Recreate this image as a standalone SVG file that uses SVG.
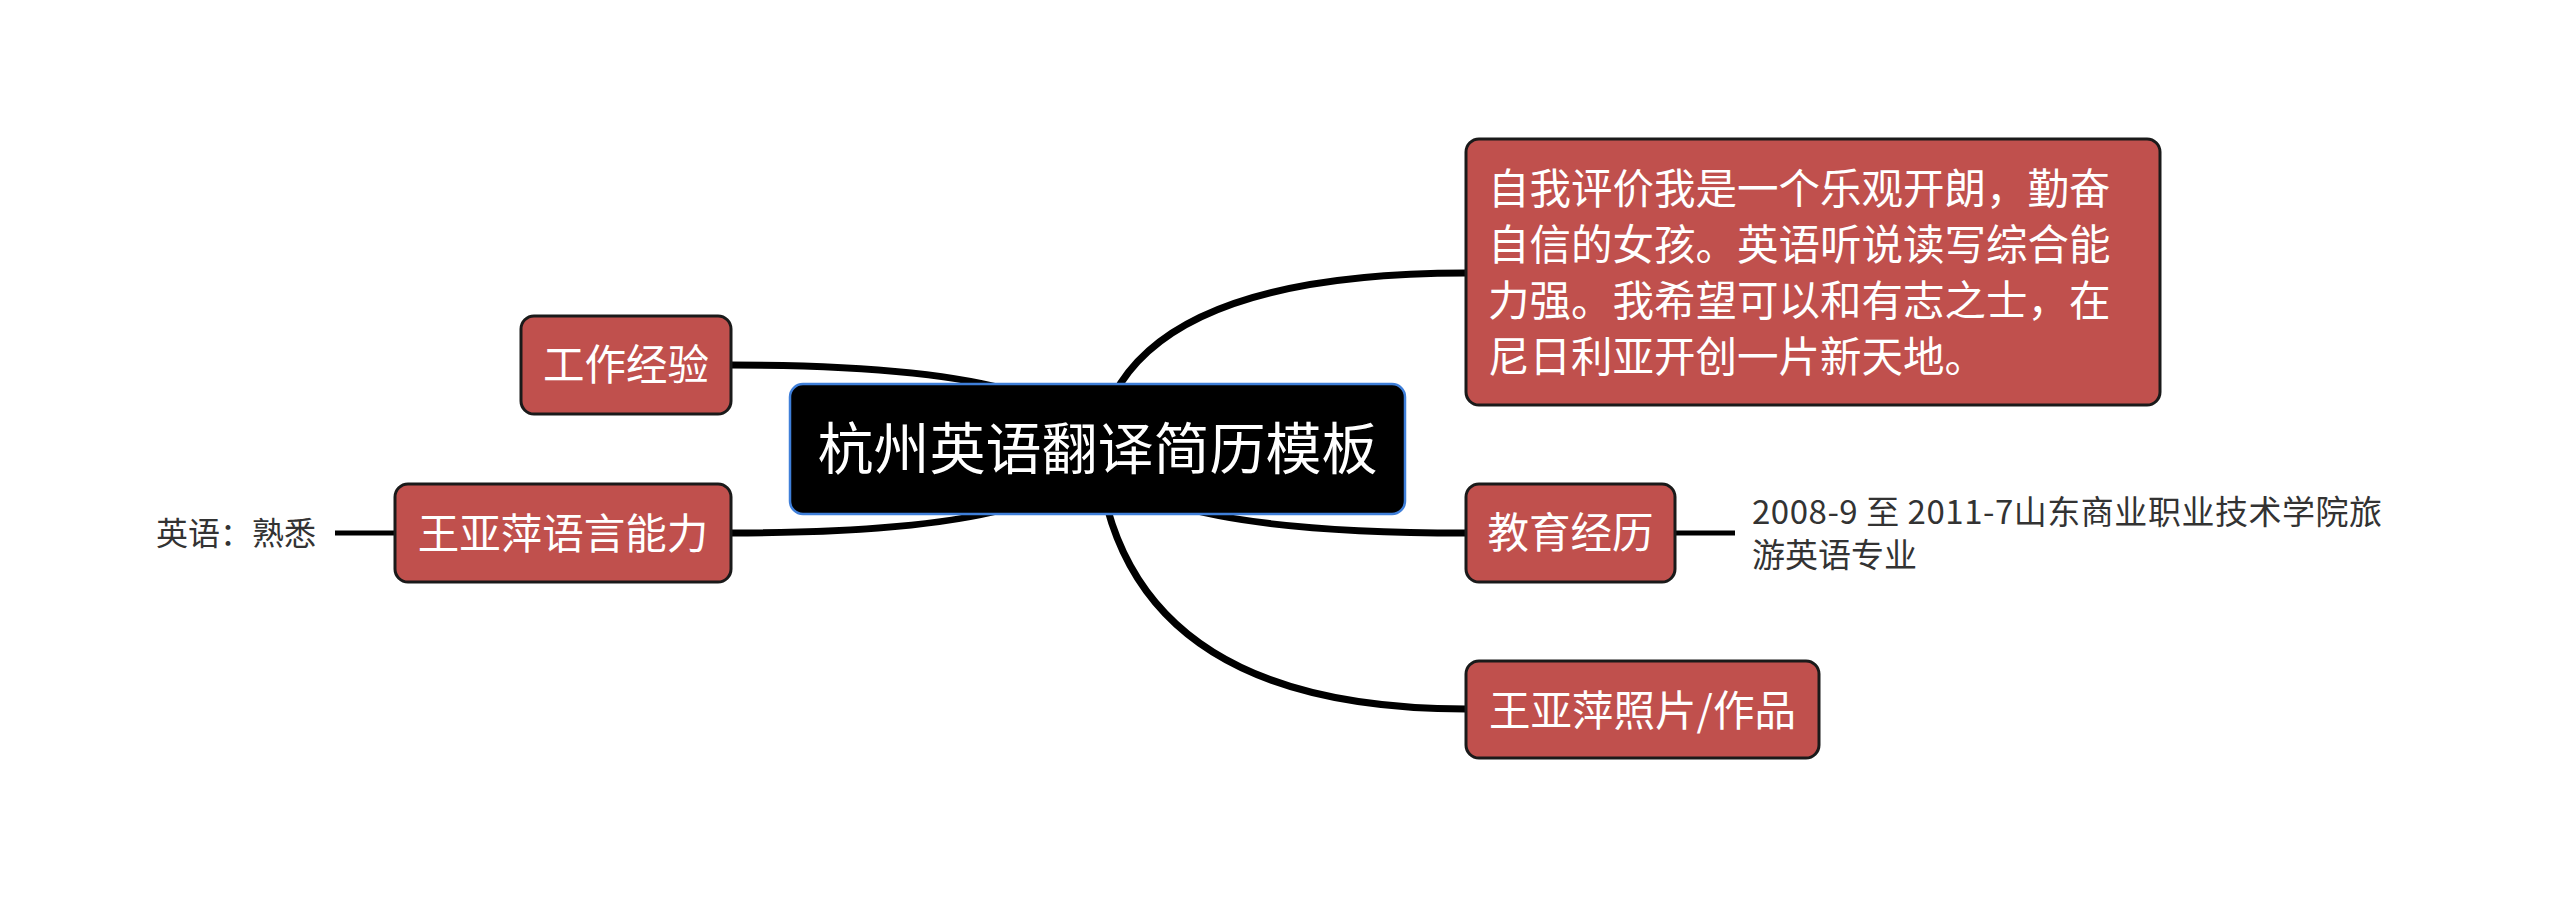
<svg xmlns="http://www.w3.org/2000/svg" width="2560" height="898" viewBox="0 0 2560 898">
  <style>
    .branch { fill: #C0504D; stroke: #1a1a1a; stroke-width: 3; }
    .central { fill: #000000; stroke: #3F7FD9; stroke-width: 2.5; }
    .conn { fill: none; stroke: #000000; stroke-width: 7; stroke-linecap: round; }
    .sub { fill: none; stroke: #000000; stroke-width: 5; }
    .t { font-family: "Noto Sans CJK SC", "Noto Sans", sans-serif; fill: #ffffff; }
    .bt { font-size: 41.5px; text-anchor: middle; }
    .d { font-family: "Noto Sans CJK SC", "Noto Sans", sans-serif; fill: #333333; }
  </style>
  <rect width="2560" height="898" fill="#ffffff"/>
  <g id="connectors">
    <path class="conn" d="M1097,449 Q1120,273 1466,273"/>
    <path class="conn" d="M1097,449 Q1120,533 1466,533"/>
    <path class="conn" d="M1097,449 Q1120,709 1466,709"/>
    <path class="conn" d="M1097,449 Q1074,365 731,365"/>
    <path class="conn" d="M1097,449 Q1074,533 731,533"/>
    <line class="sub" x1="1675" y1="533" x2="1735" y2="533"/>
    <line class="sub" x1="335" y1="533" x2="395" y2="533"/>
  </g>
  <g id="central">
    <rect class="central" x="790" y="384" width="615" height="130" rx="13"/>
    <text class="t" x="1097.5" y="469" font-size="56" text-anchor="middle">杭州英语翻译简历模板</text>
  </g>
  <g id="self-eval">
    <rect class="branch" x="1466" y="139" width="694" height="266" rx="13"/>
    <text class="t" font-size="41.5">
      <tspan x="1488" y="204">自我评价我是一个乐观开朗，勤奋</tspan>
      <tspan x="1488" y="260">自信的女孩。英语听说读写综合能</tspan>
      <tspan x="1488" y="316">力强。我希望可以和有志之士，在</tspan>
      <tspan x="1488" y="372">尼日利亚开创一片新天地。</tspan>
    </text>
  </g>
  <g id="work">
    <rect class="branch" x="521" y="316" width="210" height="98" rx="13"/>
    <text class="t bt" x="626" y="380">工作经验</text>
  </g>
  <g id="language">
    <rect class="branch" x="395" y="484" width="336" height="98" rx="13"/>
    <text class="t bt" x="563" y="549">王亚萍语言能力</text>
  </g>
  <g id="language-detail">
    <text class="d" x="156" y="545" font-size="32">英语：熟悉</text>
  </g>
  <g id="education">
    <rect class="branch" x="1466" y="484" width="209" height="98" rx="13"/>
    <text class="t bt" x="1570.5" y="548">教育经历</text>
  </g>
  <g id="education-detail">
    <text class="d" font-size="33">
      <tspan x="1752" y="524" textLength="630" lengthAdjust="spacing">2008-9 至 2011-7山东商业职业技术学院旅</tspan>
      <tspan x="1752" y="566.5">游英语专业</tspan>
    </text>
  </g>
  <g id="photos">
    <rect class="branch" x="1466" y="661" width="353" height="97" rx="13"/>
    <text class="t bt" x="1642.5" y="726">王亚萍照片/作品</text>
  </g>
</svg>
